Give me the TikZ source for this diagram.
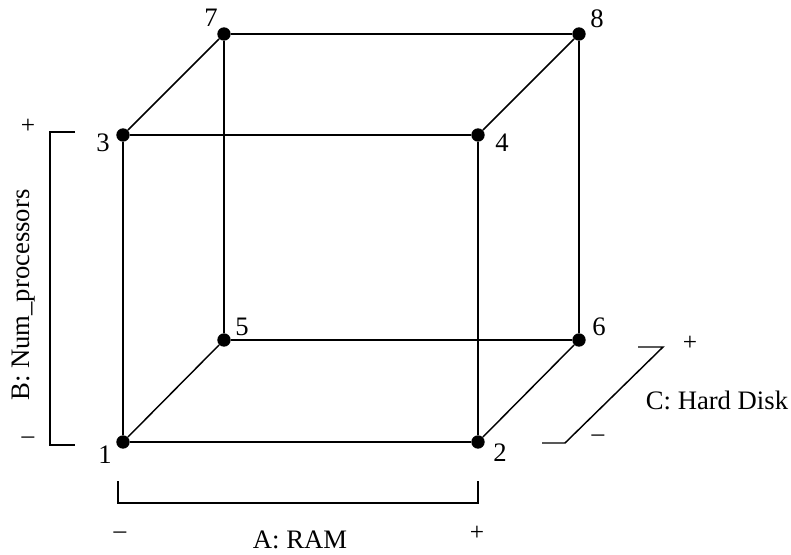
\documentclass[tikz,border=0pt]{standalone}
\usepackage{fontspec}
\setmainfont{Liberation Serif}
\usepackage{tikz}
\usetikzlibrary{positioning}
\tikzset{
  vtx/.style   ={circle, fill=black, minimum size=10pt, inner sep=0pt},
  vlabel/.style={font=\fontsize{20}{24}\selectfont, inner sep=0pt},
  sign/.style  ={font=\fontsize{19}{22}\selectfont, inner sep=0pt},
  edge/.style  ={line width=1.1pt},
  bracket/.style={line width=1.1pt},
}

\begin{document}
\begin{tikzpicture}[x=0.75pt, y=-0.75pt]
  \useasboundingbox (0,0) rectangle (791,555);
  % corners of the design cube
  \foreach \n/\px/\py in {1/123/442,2/478/442,3/123/135,4/478/135,
                          5/224/340,6/579/340,7/224/34,8/579/34}
    \node[vtx] (v\n) at (\px,\py) {};
  \foreach \n/\px/\py in {1/105/455,2/500/453,3/103/143,4/502/143,
                          5/242/327,6/599/327,7/211/18,8/597/19}
    \node[vlabel] (l\n) at (\px,\py) {\n};
  \draw[edge] (v1)--(v2)--(v4)--(v3)--(v1);
  \draw[edge] (v5)--(v6)--(v8)--(v7)--(v5);
  \foreach \a/\b in {1/5,2/6,3/7,4/8}
    \draw[edge] (v\a)--(v\b);

  % factor B
  \coordinate (bt) at (50,132);  \coordinate (bb) at (50,445);
  \draw[bracket] (75,132) -- (bt) -- (bb) -- (75,445);
  \node[sign] (bplus)  at (28,126) {+};
  \node[sign] (bminus) at (28,440) {–};
  \node[vlabel, rotate=90] (bname) at (24,295) {B: Num\_processors};

  % factor A
  \coordinate (al) at (118,503);  \coordinate (ar) at (478,503);
  \draw[bracket] (118,481) -- (al) -- (ar) -- (478,481);
  \node[sign] (aminus) at (120,535) {–};
  \node[sign] (aplus)  at (477,533) {+};
  \node[vlabel] (aname) at (300,540) {A: RAM};

  % factor C
  \coordinate (ct) at (663,347);  \coordinate (cb) at (565,443);
  \draw[bracket] (638,347) -- (ct) -- (cb) -- (542,443);
  \node[sign] (cplus)  at (690,343) {+};
  \node[sign] (cminus) at (598,438) {–};
  \node[vlabel] (cname) at (717,400) {C: Hard Disk};
\end{tikzpicture}
\end{document}
